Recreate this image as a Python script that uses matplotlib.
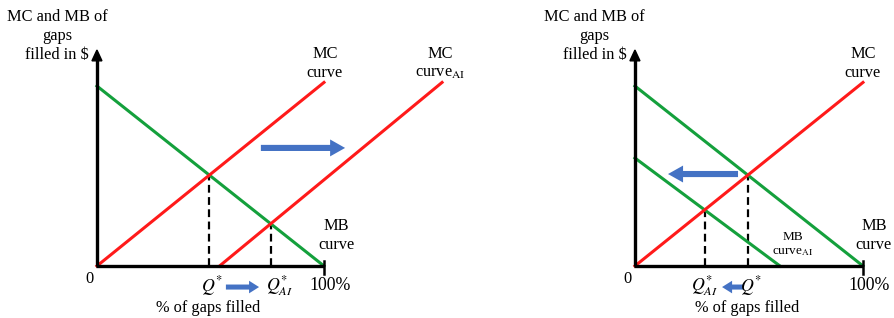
import matplotlib.pyplot as plt
from matplotlib.patches import FancyArrow

plt.rcParams['font.family'] = 'Liberation Serif'
plt.rcParams['mathtext.fontset'] = 'stix'

# curve end points, x = % of gaps filled, y = $ (arbitrary units)
mb_x = [0, 100]
mb_y = [100, 0]
mc_x = [0, 100]
mc_y = [0, 102]
mc_ai_x = [54, 152]
mc_ai_y = [0, 102]
mb_ai_x = [0, 63.6]
mb_ai_y = [60, 0]

RED = '#ff1a1a'
GREEN = '#14a03c'
BLUE = '#4472c4'
FS = 11.8


def cross(x1, y1, x2, y2):
    # intersection of two straight lines given by end points
    m1 = (y1[1] - y1[0]) / (x1[1] - x1[0])
    m2 = (y2[1] - y2[0]) / (x2[1] - x2[0])
    b1 = y1[0] - m1 * x1[0]
    b2 = y2[0] - m2 * x2[0]
    x = (b2 - b1) / (m1 - m2)
    return x, m1 * x + b1


def frame(ax):
    ax.plot([0, 0], [0, 116], color='black', lw=2.4, solid_capstyle='butt')
    ax.add_patch(FancyArrow(0, 114, 0, 6, width=0, head_width=4.4, head_length=6,
                            length_includes_head=True, color='black'))
    ax.plot([-0.6, 100], [0, 0], color='black', lw=2.4, solid_capstyle='butt')
    ax.plot([100, 100], [-4.5, 2.5], color='black', lw=1.8)
    ax.text(-3.3, -7.2, '0', ha='center', va='center', fontsize=FS)
    ax.text(102.6, -11.1, '100%', ha='center', va='center', fontsize=FS + 1)
    ax.text(49, -23.3, '% of gaps filled', ha='center', va='center', fontsize=FS)
    ax.text(-17.6, 128, 'MC and MB of\ngaps\nfilled in $', ha='center', va='center',
            fontsize=FS, linespacing=1.25)


def blue_arrow(ax, x0, x1, y, w, hw, hl):
    ax.add_patch(FancyArrow(x0, y, x1 - x0, 0, width=w, head_width=hw, head_length=hl,
                            length_includes_head=True, color=BLUE, lw=0))


def dashed(ax, p):
    ax.plot([p[0], p[0]], [0, p[1]], color='black', lw=1.6, ls=(0, (3.5, 2)))


fig = plt.figure(figsize=(8.94, 3.18), dpi=100)
ax1 = fig.add_axes([0, 0, 450 / 894, 1])
ax2 = fig.add_axes([450 / 894, 0, 444 / 894, 1])
ax1.set_xlim(-42.7, 155.5)
ax2.set_xlim(-81.1, 113.6)
for ax in (ax1, ax2):
    ax.set_ylim(-28.9, 147.8)
    ax.axis('off')

# left panel: MC shifts right
p1 = cross(mb_x, mb_y, mc_x, mc_y)
p2 = cross(mb_x, mb_y, mc_ai_x, mc_ai_y)
dashed(ax1, p1)
dashed(ax1, p2)
ax1.plot(mb_x, mb_y, color=GREEN, lw=2.2)
ax1.plot(mc_x, mc_y, color=RED, lw=2.2)
ax1.plot(mc_ai_x, mc_ai_y, color=RED, lw=2.2)
frame(ax1)
ax1.text(100.4, 112.5, 'MC\ncurve', ha='center', va='center', fontsize=FS, linespacing=1.25)
ax1.text(151, 112.5, 'MC\ncurve$_{\\mathrm{AI}}$', ha='center', va='center', fontsize=FS,
         linespacing=1.25)
ax1.text(105.3, 17.2, 'MB\ncurve', ha='center', va='center', fontsize=FS, linespacing=1.25)
ax1.text(p1[0] + 1, -11.1, '$Q^{*}$', ha='center', va='center', fontsize=FS + 1)
ax1.text(p2[0] + 4, -11.1, '$Q^{*}_{AI}$', ha='center', va='center', fontsize=FS + 1)
blue_arrow(ax1, 72.2, 109.3, 65.6, 3.4, 9.4, 6.6)
blue_arrow(ax1, 56.8, 71.4, -11.7, 2.8, 7, 4.4)

# right panel: MB shifts left
p3 = cross(mb_x, mb_y, mc_x, mc_y)
p4 = cross(mb_ai_x, mb_ai_y, mc_x, mc_y)
dashed(ax2, p3)
dashed(ax2, p4)
ax2.plot(mb_x, mb_y, color=GREEN, lw=2.2)
ax2.plot(mb_ai_x, mb_ai_y, color=GREEN, lw=2.2)
ax2.plot(mc_x, mc_y, color=RED, lw=2.2)
frame(ax2)
ax2.text(100, 112.5, 'MC\ncurve', ha='center', va='center', fontsize=FS, linespacing=1.25)
ax2.text(104.8, 17.2, 'MB\ncurve', ha='center', va='center', fontsize=FS, linespacing=1.25)
ax2.text(69.3, 11.9, 'MB\ncurve$_{\\mathrm{AI}}$', ha='center', va='center', fontsize=9.5,
         linespacing=1.2)
ax2.text(p4[0], -11.1, '$Q^{*}_{AI}$', ha='center', va='center', fontsize=FS + 1)
ax2.text(p3[0] + 1.5, -11.1, '$Q^{*}$', ha='center', va='center', fontsize=FS + 1)
blue_arrow(ax2, 45.2, 14.5, 51.1, 3.4, 9.4, 6.6)
blue_arrow(ax2, 47.4, 38.2, -11.7, 2.8, 7, 4.4)

fig.savefig('out.png', dpi=100)
